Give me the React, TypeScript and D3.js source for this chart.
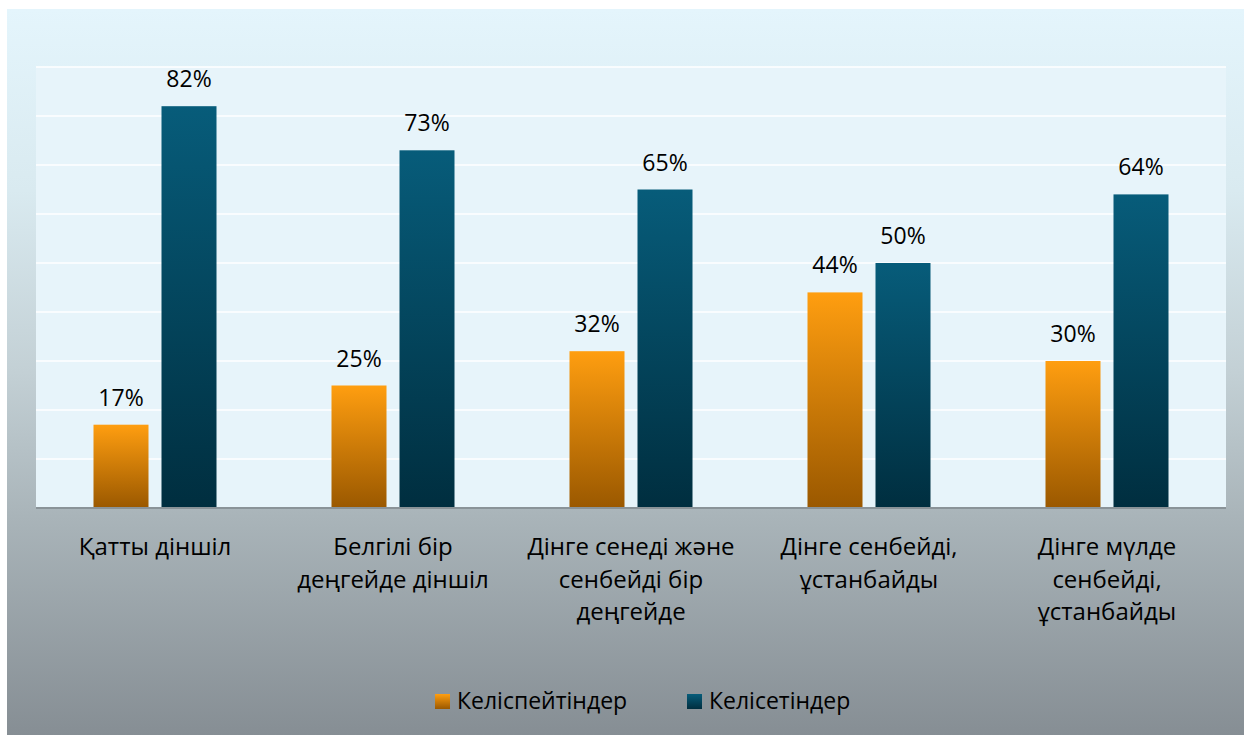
import React from "react";
import * as d3 from "d3";

const categories: string[][] = [
  ["Қатты діншіл"],
  ["Белгілі бір", "деңгейде діншіл"],
  ["Дінге сенеді және", "сенбейді бір", "деңгейде"],
  ["Дінге сенбейді,", "ұстанбайды"],
  ["Дінге мүлде", "сенбейді,", "ұстанбайды"],
];
const disagree = [17, 25, 32, 44, 30];
const agree = [82, 73, 65, 50, 64];
const seriesNames = ["Келіспейтіндер", "Келісетіндер"];
const yTicks = [0, 10, 20, 30, 40, 50, 60, 70, 80, 90];

const W = 1244;
const H = 735;
const plot = { left: 36, right: 1226, top: 67, bottom: 508 };
const FONT = "'Open Sans', 'Noto Sans', sans-serif";

export default function App() {
  const x0 = d3
    .scaleBand<number>()
    .domain(d3.range(categories.length))
    .range([plot.left, plot.right])
    .paddingInner(0)
    .paddingOuter(0);
  const y = d3.scaleLinear().domain([0, 90]).range([plot.bottom, plot.top]);
  const bw = 55;
  const gap = 13;
  const series = [
    { name: seriesNames[0], values: disagree, grad: "gOrange", offset: -(gap / 2 + bw) },
    { name: seriesNames[1], values: agree, grad: "gBlue", offset: gap / 2 },
  ];

  return (
    <svg
      width={W}
      height={H}
      style={{ position: "absolute", left: 0, top: 0, fontFamily: FONT }}
    >
      <defs>
        <linearGradient id="bg" x1="0" y1="0" x2="0" y2="1">
          <stop offset="0" stopColor="#e4f5fc" />
          <stop offset="0.25" stopColor="#d9eaf0" />
          <stop offset="0.5" stopColor="#c3d0d5" />
          <stop offset="0.7" stopColor="#a9b4b9" />
          <stop offset="1" stopColor="#868e94" />
        </linearGradient>
        <linearGradient id="gOrange" x1="0" y1="0" x2="0" y2="1">
          <stop offset="0" stopColor="#ff9e10" />
          <stop offset="1" stopColor="#9a5800" />
        </linearGradient>
        <linearGradient id="gBlue" x1="0" y1="0" x2="0" y2="1">
          <stop offset="0" stopColor="#075c7a" />
          <stop offset="1" stopColor="#002e3f" />
        </linearGradient>
      </defs>
      <rect x={7} y={9} width={W - 7} height={H - 9} fill="url(#bg)" />
      <rect
        x={plot.left}
        y={plot.top}
        width={plot.right - plot.left}
        height={plot.bottom - plot.top}
        fill="#e7f4fa"
      />
      {yTicks.slice(1).map((t) => (
        <line
          key={t}
          x1={plot.left}
          x2={plot.right}
          y1={y(t)}
          y2={y(t)}
          stroke="#ffffff"
          strokeWidth={1.5}
        />
      ))}
      {series.map((s) =>
        s.values.map((v, i) => {
          const cx = (x0(i) as number) + x0.bandwidth() / 2;
          const bx = cx + s.offset;
          return (
            <g key={s.name + i}>
              <rect
                x={bx}
                y={y(v)}
                width={bw}
                height={y(0) - y(v)}
                fill={`url(#${s.grad})`}
              />
              <text
                x={bx + bw / 2}
                y={y(v) - 19}
                textAnchor="middle"
                fontSize={23}
                fill="#000"
              >
                {v}%
              </text>
            </g>
          );
        })
      )}
      <line
        x1={plot.left}
        x2={plot.right}
        y1={plot.bottom}
        y2={plot.bottom}
        stroke="#8a9398"
        strokeWidth={2}
      />
      {categories.map((lines, i) => {
        const cx = (x0(i) as number) + x0.bandwidth() / 2;
        return (
          <text key={i} textAnchor="middle" fontSize={24} fill="#000">
            {lines.map((l, j) => (
              <tspan key={j} x={cx} y={555 + j * 32.5}>
                {l}
              </tspan>
            ))}
          </text>
        );
      })}
      {[
        { name: seriesNames[0], grad: "gOrange", x: 435 },
        { name: seriesNames[1], grad: "gBlue", x: 687 },
      ].map((l) => (
        <g key={l.name}>
          <rect x={l.x} y={694} width={15} height={15} fill={`url(#${l.grad})`} />
          <text x={l.x + 22} y={709} fontSize={23} fill="#000">
            {l.name}
          </text>
        </g>
      ))}
    </svg>
  );
}
